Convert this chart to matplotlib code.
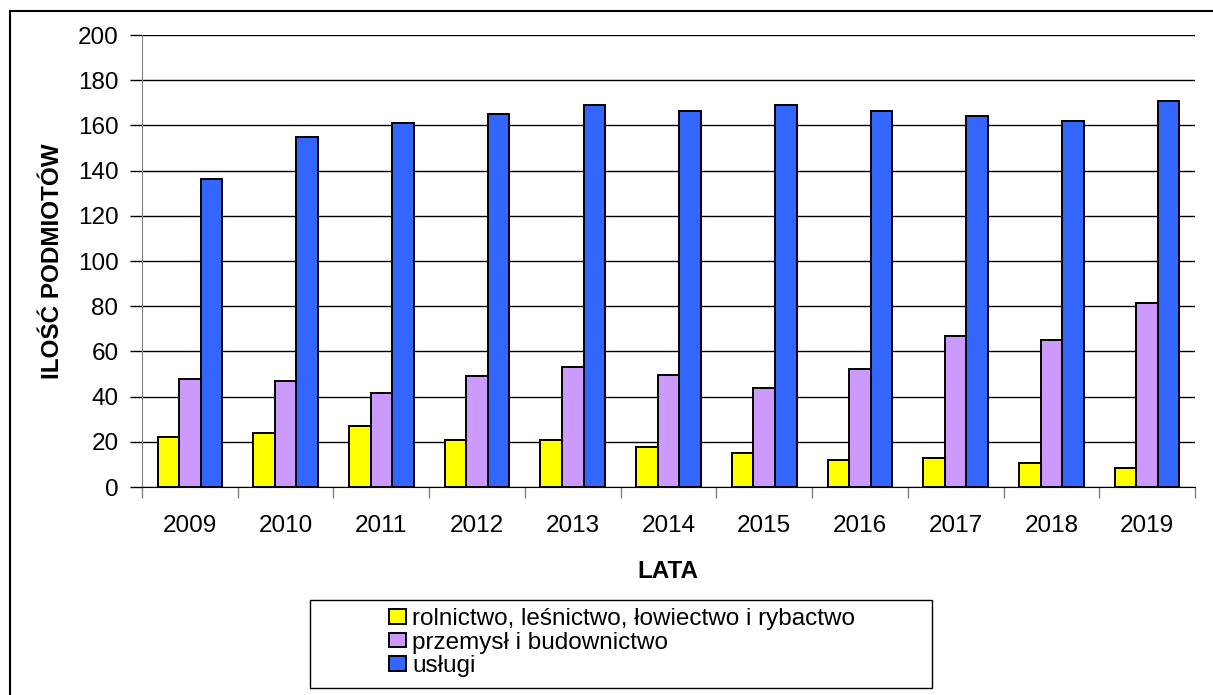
import matplotlib
matplotlib.use("Agg")
import matplotlib.pyplot as plt
import numpy as np
from matplotlib.patches import Rectangle, Patch
from matplotlib.lines import Line2D

years = ["2009", "2010", "2011", "2012", "2013", "2014", "2015", "2016", "2017", "2018", "2019"]
rolnictwo = [22, 24, 27, 21, 21, 17.5, 15, 12, 13, 10.5, 8.5]
przemysl = [48, 47, 41.5, 49, 53, 49.5, 44, 52, 67, 65, 81.5]
uslugi = [136.5, 155, 161, 165, 169, 166.5, 169, 166.5, 164, 162, 171]
series_labels = ["rolnictwo, leśnictwo, łowiectwo i rybactwo", "przemysł i budownictwo", "usługi"]
colors = ["#FFFF00", "#CC99FF", "#3366FF"]
y_ticks = [0, 20, 40, 60, 80, 100, 120, 140, 160, 180, 200]

plt.rcParams['font.family'] = ['Liberation Sans', 'DejaVu Sans']
FS = 17.5

W, H = 1213, 695
fig = plt.figure(figsize=(W / 100, H / 100), dpi=100)
ax = fig.add_axes([142 / W, 1 - 487 / H, (1195 - 142) / W, (487 - 35) / H])

x = np.arange(len(years))
bw = 0.225
for i, (vals, c) in enumerate(zip([rolnictwo, przemysl, uslugi], colors)):
    ax.bar(x + (i - 1) * bw, vals, width=bw, color=c, edgecolor="black", linewidth=1.4, zorder=3)

ax.set_xlim(-0.5, len(years) - 0.5)
ax.set_ylim(0, 200)
ax.set_yticks(y_ticks)
ax.set_yticklabels([str(v) for v in y_ticks], fontsize=FS)
ax.yaxis.grid(True, color="black", linewidth=1.0, zorder=0)
ax.set_axisbelow(True)

ax.set_xticks(x)
ax.set_xticklabels(years, fontsize=FS)
ax.set_xticks(np.arange(-0.5, len(years)), minor=True)
ax.tick_params(axis='x', which='major', length=0, pad=20)
ax.tick_params(axis='x', which='minor', length=8, width=1, color="#808080", direction='out')
ax.tick_params(axis='y', which='major', length=9, width=1, color="black", pad=8, direction='out')

for s in ["top", "right"]:
    ax.spines[s].set_visible(False)
ax.spines["left"].set_color("#808080")
ax.spines["bottom"].set_color("black")

ax.set_ylabel("ILOŚĆ PODMIOTÓW", fontsize=FS, fontweight="bold")
ax.yaxis.set_label_coords((64 - 142) / (1195 - 142), 0.5)
fig.text(668 / W, 1 - 571 / H, "LATA", fontsize=FS, fontweight="bold", ha="center", va="center")

# outer frame
fig.add_artist(Line2D([10 / W, 10 / W], [0, 1 - 11 / H], transform=fig.transFigure, color="black", lw=1.5))
fig.add_artist(Line2D([10 / W, 1], [1 - 11 / H, 1 - 11 / H], transform=fig.transFigure, color="black", lw=1.5))

# legend frame
fig.add_artist(Rectangle((310 / W, 1 - 688 / H), (932 - 310) / W, (688 - 600) / H,
                         transform=fig.transFigure, fill=False, edgecolor="black", lw=1.0))
handles = [Patch(facecolor=c, edgecolor="black", linewidth=1.4) for c in colors]
fig.legend(handles, series_labels, loc="upper left", bbox_to_anchor=(389 / W, 1 - 608 / H),
           frameon=False, fontsize=FS, handlelength=0.7, handleheight=0.55, handletextpad=0.25,
           labelspacing=0.07, borderpad=0, borderaxespad=0)

fig.savefig("out.png", dpi=100)
